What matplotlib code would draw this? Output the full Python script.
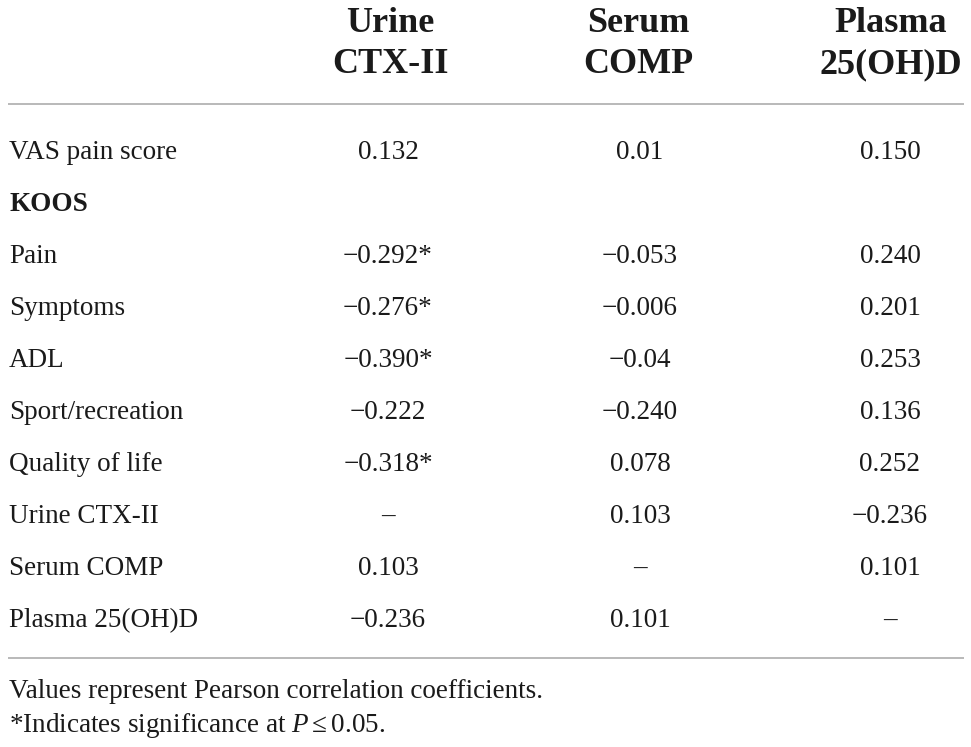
import matplotlib
matplotlib.use('Agg')
import matplotlib.pyplot as plt

# correlation table: rows x (Urine CTX-II, Serum COMP, Plasma 25(OH)D)
headers = [('Urine', 'CTX-II'), ('Serum', 'COMP'), ('Plasma', '25(OH)D')]
row_labels = ['VAS pain score', 'KOOS', 'Pain', 'Symptoms', 'ADL',
              'Sport/recreation', 'Quality of life', 'Urine CTX-II',
              'Serum COMP', 'Plasma 25(OH)D']
bold_rows = ['KOOS']
urine_ctx = ['0.132', '', '\u22120.292*', '\u22120.276*', '\u22120.390*',
             '\u22120.222', '\u22120.318*', '\u2013', '0.103', '\u22120.236']
serum_comp = ['0.01', '', '\u22120.053', '\u22120.006', '\u22120.04',
              '\u22120.240', '0.078', '0.103', '\u2013', '0.101']
plasma_vitd = ['0.150', '', '0.240', '0.201', '0.253',
               '0.136', '0.252', '\u22120.236', '0.101', '\u2013']
footnotes = ['Values represent Pearson correlation coefficients.',
             r'*Indicates significance at $P \leq 0.05$.']

plt.rcParams['font.family'] = ['Liberation Serif', 'DejaVu Serif']
plt.rcParams['mathtext.fontset'] = 'custom'
plt.rcParams['mathtext.rm'] = 'Liberation Serif'
plt.rcParams['mathtext.it'] = 'Liberation Serif:italic'

W, H = 971, 747
fig = plt.figure(figsize=(W / 100, H / 100), dpi=100)
ax = fig.add_axes([0, 0, 1, 1])
ax.set_xlim(0, W)
ax.set_ylim(H, 0)
ax.axis('off')

ink = '#1a1a1a'
body = 19.5
head_x = [390, 638, 891]
col_x = [388, 640, 890]

# header
for x, (l1, l2) in zip(head_x, headers):
    ax.text(x, 32, l1, ha='center', va='baseline', fontsize=26,
            fontweight='bold', color=ink)
    ax.text(x, 73, l2, ha='center', va='baseline', fontsize=26,
            fontweight='bold', color=ink)

ax.plot([8, 964], [104, 104], color='#b3b3b3', lw=1.3, solid_capstyle='butt')

# rows
columns = [urine_ctx, serum_comp, plasma_vitd]
for i, label in enumerate(row_labels):
    y = 159 + 52 * i
    ax.text(9, y, label, ha='left', va='baseline', fontsize=body, color=ink,
            fontweight='bold' if label in bold_rows else 'normal')
    for x, col in zip(col_x, columns):
        if col[i]:
            ax.text(x, y, col[i], ha='center', va='baseline',
                    fontsize=body, color=ink)

ax.plot([8, 964], [658, 658], color='#b3b3b3', lw=1.3, solid_capstyle='butt')

# footnotes
ax.text(9, 698, footnotes[0], ha='left', va='baseline', fontsize=body, color=ink)
ax.text(9, 732, footnotes[1], ha='left', va='baseline', fontsize=body, color=ink)

fig.savefig('out.png', dpi=100, facecolor='white')
